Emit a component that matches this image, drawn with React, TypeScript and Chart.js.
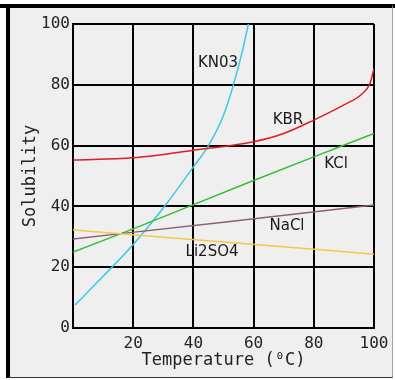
import React, { useEffect, useRef } from 'react';
import { Chart, registerables } from 'chart.js';

Chart.register(...registerables);

// ---- data ----
const kno3Temp = [0.7, 10, 20, 30, 40, 45, 50, 53, 56, 58.5];
const kno3Sol = [7.6, 17, 27.5, 39.5, 53, 60, 70, 79, 90, 101];

const kbrTemp = [0, 20, 40, 60, 70, 80, 90, 96, 98.7, 100];
const kbrSol = [55.3, 56, 58.5, 61.3, 64, 68.4, 73.4, 77, 80.5, 85.4];

const kclTemp = [0, 20, 40, 60, 80, 100];
const kclSol = [25, 32.6, 40.6, 48.5, 56.3, 64];

const naclTemp = [0, 50, 100];
const naclSol = [29.3, 34.8, 40.5];

const li2so4Temp = [0, 50, 100];
const li2so4Sol = [32.2, 28.3, 24.3];

const xTicks = [0, 20, 40, 60, 80, 100];
const yTicks = [0, 20, 40, 60, 80, 100];

const seriesNames = ['KN03', 'KBR', 'KCl', 'NaCl', 'Li2SO4'];
// label anchor points (temperature, solubility) for in-chart names
const labelTemp = [48.2, 71.4, 87.4, 71.1, 46.2];
const labelSol = [87.2, 68.4, 53.9, 33.5, 25];

const colors = ['#38c8ea', '#e01c24', '#30c030', '#8a6070', '#f2c84a'];

const toPts = (t: number[], s: number[]) => t.map((x, i) => ({ x, y: s[i] }));

const labelPlugin = {
  id: 'seriesLabels',
  afterDatasetsDraw(chart: any) {
    const { ctx, scales } = chart;
    ctx.save();
    ctx.font = '15px "DejaVu Sans"';
    ctx.fillStyle = '#1a1a1a';
    ctx.textAlign = 'center';
    ctx.textBaseline = 'middle';
    seriesNames.forEach((n, i) => {
      ctx.fillText(n, scales.x.getPixelForValue(labelTemp[i]), scales.y.getPixelForValue(labelSol[i]));
    });
    ctx.restore();
  },
};

export default function App() {
  const ref = useRef<HTMLCanvasElement>(null);
  useEffect(() => {
    document.body.style.margin = '0';
    const mk = (label: string, t: number[], s: number[], c: string) => ({
      label,
      data: toPts(t, s),
      borderColor: c,
      backgroundColor: c,
      borderWidth: 1.5,
      pointRadius: 0,
      tension: 0,
      cubicInterpolationMode: 'monotone' as const,
      fill: false,
    });
    const chart = new Chart(ref.current!, {
      type: 'line',
      data: {
        datasets: [
          mk('Li2SO4', li2so4Temp, li2so4Sol, colors[4]),
          mk('NaCl', naclTemp, naclSol, colors[3]),
          mk('KCl', kclTemp, kclSol, colors[2]),
          mk('KBR', kbrTemp, kbrSol, colors[1]),
          mk('KN03', kno3Temp, kno3Sol, colors[0]),
        ],
      },
      options: {
        animation: false,
        responsive: false,
        devicePixelRatio: 1,
        layout: { padding: { left: 0, top: 24, right: 21, bottom: 0 } },
        plugins: { legend: { display: false }, tooltip: { enabled: false } },
        scales: {
          x: {
            type: 'linear',
            min: 0,
            max: 100,
            afterBuildTicks: (s: any) => { s.ticks = xTicks.map((v) => ({ value: v })); },
            afterFit: (s: any) => { s.height = 52; },
            grid: { color: '#000', lineWidth: 2, drawTicks: false },
            border: { color: '#000', width: 2 },
            ticks: {
              color: '#222',
              padding: 6,
              maxRotation: 0,
              font: { family: '"DejaVu Sans Mono"', size: 16 },
              callback: (v: any) => (v === 0 ? '' : String(v)),
            },
            title: {
              display: true,
              text: 'Temperature (⁰C)',
              color: '#222',
              font: { family: '"DejaVu Sans Mono"', size: 17 },
              padding: { top: 0, bottom: 9 },
            },
          },
          y: {
            type: 'linear',
            min: 0,
            max: 100,
            afterBuildTicks: (s: any) => { s.ticks = yTicks.map((v) => ({ value: v })); },
            afterFit: (s: any) => { s.width = 73; },
            grid: { color: '#000', lineWidth: 2, drawTicks: false },
            border: { color: '#000', width: 2 },
            ticks: {
              color: '#222',
              padding: 3,
              font: { family: '"DejaVu Sans Mono"', size: 16 },
            },
            title: {
              display: true,
              text: 'Solubility',
              color: '#222',
              font: { family: '"DejaVu Sans Mono"', size: 17 },
              padding: { top: 20, bottom: 0 },
            },
          },
        },
      },
      plugins: [labelPlugin],
    });
    return () => chart.destroy();
  }, []);

  return (
    <div style={{ position: 'relative', width: 395, height: 380, background: '#fff', overflow: 'hidden' }}>
      <div
        style={{
          position: 'absolute',
          left: 0,
          top: 4,
          width: 395,
          height: 4,
          background: '#000',
        }}
      />
      <div
        style={{
          position: 'absolute',
          left: 6,
          top: 4,
          width: 387,
          height: 374,
          background: '#efefef',
          borderLeft: '4px solid #000',
          borderTop: '4px solid #000',
          borderRight: '1px solid #a0a0a0',
          borderBottom: '1px solid #333',
          boxSizing: 'border-box',
        }}
      />
      <canvas ref={ref} width={395} height={380} style={{ position: 'absolute', left: 0, top: 0 }} />
    </div>
  );
}
